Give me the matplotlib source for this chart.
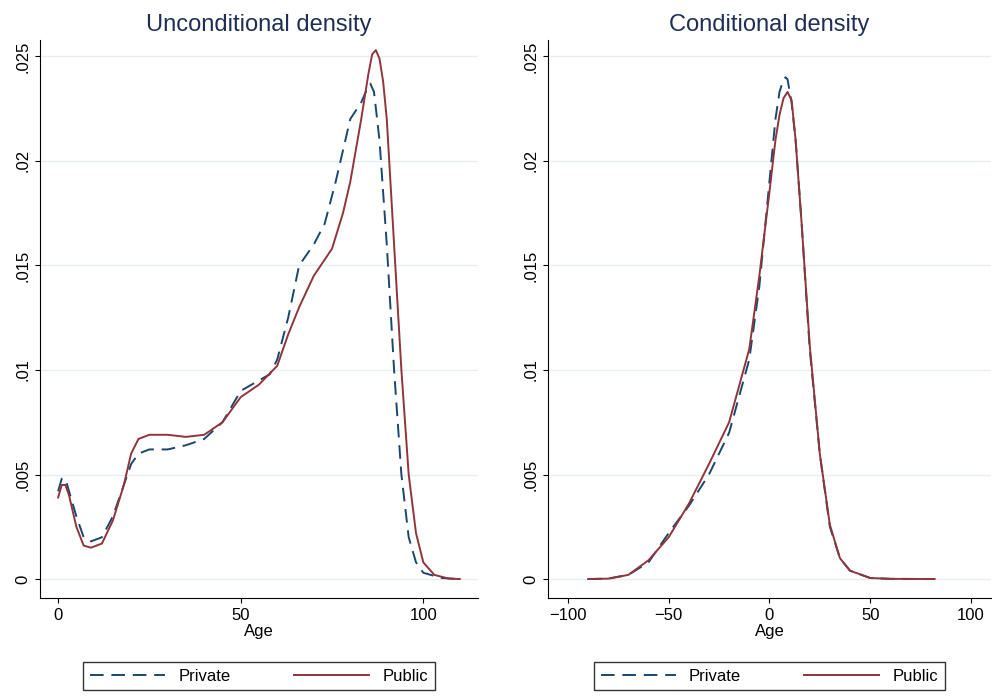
import numpy as np
import matplotlib.pyplot as plt

# Unconditional density (age)
u_priv_x = [0, 1, 2, 3, 5, 7, 9, 12, 15, 18, 20, 22, 25, 30, 35, 40, 45, 50, 55, 58, 60, 63, 66, 70, 73, 76, 80, 83, 84.5, 85.5, 86.5, 88, 90, 92, 94, 96, 98, 100, 105, 110]
u_priv_y = [0.0042, 0.0048, 0.0048, 0.0042, 0.003, 0.002, 0.0018, 0.002, 0.003, 0.0045, 0.0055, 0.006, 0.0062, 0.0062, 0.0064, 0.0067, 0.0075, 0.009, 0.0095, 0.0098, 0.0105, 0.0125, 0.015, 0.016, 0.017, 0.019, 0.022, 0.0228, 0.0234, 0.0237, 0.0233, 0.021, 0.016, 0.010, 0.005, 0.002, 0.0008, 0.0003, 0.00005, 0.0]
u_pub_x = [0, 1, 2, 3, 5, 7, 9, 12, 15, 18, 20, 22, 25, 30, 35, 40, 45, 50, 55, 60, 63, 66, 70, 75, 78, 80, 83, 85, 86, 87, 88, 89, 90, 92, 94, 96, 98, 100, 103, 107, 110]
u_pub_y = [0.0039, 0.0045, 0.0045, 0.004, 0.0025, 0.0016, 0.0015, 0.0017, 0.0028, 0.0045, 0.006, 0.0067, 0.0069, 0.0069, 0.0068, 0.0069, 0.0075, 0.0087, 0.0093, 0.0102, 0.0117, 0.013, 0.0145, 0.0158, 0.0175, 0.019, 0.022, 0.0242, 0.0251, 0.0253, 0.0249, 0.0238, 0.022, 0.016, 0.010, 0.005, 0.0022, 0.0008, 0.0002, 0.00002, 0.0]

# Conditional density
c_priv_x = [-90, -80, -70, -60, -50, -40, -30, -20, -10, -5, 0, 3, 5, 7, 8, 9, 11, 13, 16, 20, 25, 30, 35, 40, 50, 60, 82]
c_priv_y = [0.0, 0.00002, 0.0002, 0.0008, 0.0022, 0.0035, 0.005, 0.007, 0.0105, 0.014, 0.019, 0.022, 0.0233, 0.0239, 0.024, 0.0239, 0.0228, 0.021, 0.017, 0.011, 0.006, 0.0025, 0.001, 0.0004, 0.00005, 0.00001, 0.0]
c_pub_x = [-90, -80, -70, -60, -50, -40, -30, -20, -10, -5, 0, 3, 5, 7, 9, 11, 13, 16, 20, 25, 30, 35, 40, 50, 60, 82]
c_pub_y = [0.0, 0.00002, 0.0002, 0.0009, 0.002, 0.0036, 0.0055, 0.0075, 0.011, 0.0145, 0.0185, 0.021, 0.0222, 0.023, 0.0233, 0.0229, 0.021, 0.017, 0.0112, 0.006, 0.0026, 0.001, 0.0004, 0.00005, 0.00001, 0.0]

navy = '#1a476f'
maroon = '#90353b'
title_col = '#1e2e55'

plt.rcParams['font.family'] = ['Arial', 'Liberation Sans', 'DejaVu Sans']
fig = plt.figure(figsize=(9.96, 6.96), dpi=100)
ax1 = fig.add_axes([0.040, 0.141, 0.440, 0.802])
ax2 = fig.add_axes([0.550, 0.141, 0.445, 0.802])

panels = [
    (ax1, 'Unconditional density', u_priv_x, u_priv_y, u_pub_x, u_pub_y, [0, 50, 100], (-5, 115)),
    (ax2, 'Conditional density', c_priv_x, c_priv_y, c_pub_x, c_pub_y, [-100, -50, 0, 50, 100], (-110, 110)),
]
for ax, title, px, py, qx, qy, xt, xl in panels:
    ax.plot(px, py, color=navy, ls=(0, (7, 4)), lw=1.4, label='Private')
    ax.plot(qx, qy, color=maroon, lw=1.4, label='Public')
    ax.set_title(title, fontsize=17, color=title_col)
    ax.set_xticks(xt)
    ax.set_xlim(*xl)
    ax.set_ylim(-0.0009, 0.0258)
    ax.set_yticks([0, 0.005, 0.01, 0.015, 0.02, 0.025])
    ax.set_yticklabels(['0', '.005', '.01', '.015', '.02', '.025'], rotation=90, va='center')
    ax.tick_params(labelsize=12)
    ax.set_xlabel('Age', fontsize=12, labelpad=1)
    ax.grid(axis='y', color='#e8eef0', lw=1)
    ax.set_axisbelow(True)
    for s in ['top', 'right']:
        ax.spines[s].set_visible(False)
    ax.legend(loc='upper center', bbox_to_anchor=(0.5, -0.1), ncol=2, frameon=True,
              fancybox=False, edgecolor='black', fontsize=12, handlelength=4.5,
              columnspacing=3.8)

fig.savefig('out.png')
